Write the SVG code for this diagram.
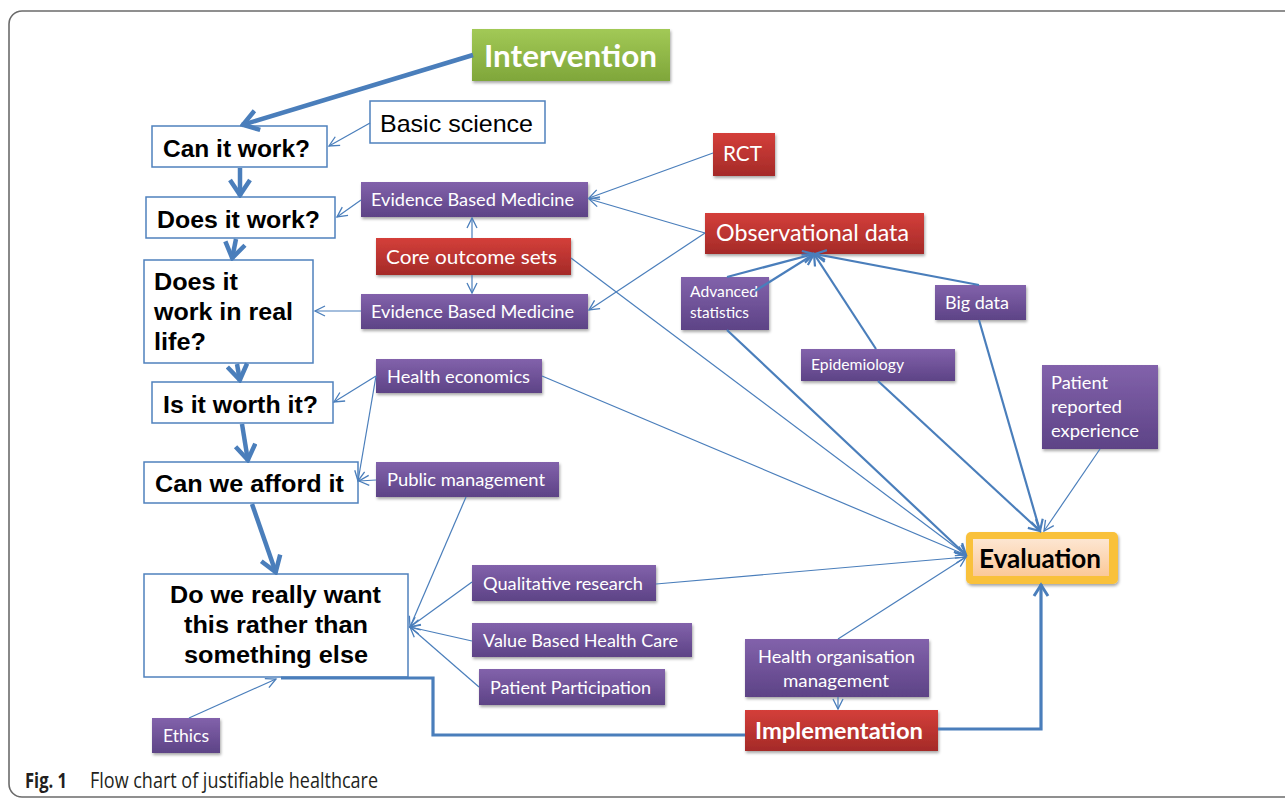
<svg xmlns="http://www.w3.org/2000/svg" width="1285" height="799" viewBox="0 0 1285 799">
<style>
.wb{fill:#fff;stroke:#4f81bd;stroke-width:1.5}
.q{font-family:"Liberation Sans",Arial,sans-serif;font-weight:bold;font-size:23px;fill:#000}
.lb{font-family:Lato,"Open Sans",sans-serif;fill:#fff}
.c1{fill:none;stroke:#4a7ebb;stroke-width:1.2}
.c2{fill:none;stroke:#4a7ebb;stroke-width:2.2}
.c4{fill:none;stroke:#4a7ebb;stroke-width:4.5}
.c3{fill:none;stroke:#4a7ebb;stroke-width:3.2}
</style>
<defs>
<linearGradient id="gp" x1="0" y1="0" x2="0" y2="1"><stop offset="0" stop-color="#8262ab"/><stop offset="1" stop-color="#5d4386"/></linearGradient>
<linearGradient id="gr" x1="0" y1="0" x2="0" y2="1"><stop offset="0" stop-color="#d43f3a"/><stop offset="1" stop-color="#a42a28"/></linearGradient>
<linearGradient id="gg" x1="0" y1="0" x2="0" y2="1"><stop offset="0" stop-color="#a2c956"/><stop offset="1" stop-color="#7fa63a"/></linearGradient>
<linearGradient id="ge" x1="0" y1="0" x2="0" y2="1"><stop offset="0" stop-color="#fde6d2"/><stop offset="1" stop-color="#fbc999"/></linearGradient>
<filter id="sh" x="-10%" y="-20%" width="125%" height="150%"><feDropShadow dx="1" dy="2" stdDeviation="1.5" flood-color="#000" flood-opacity="0.35"/></filter>
<marker id="a1" viewBox="-12 -7 14 14" refX="0" refY="0" markerUnits="userSpaceOnUse" markerWidth="14" markerHeight="14" orient="auto"><path d="M-10,-5 L0,0 L-10,5" fill="none" stroke="#4a7ebb" stroke-width="1.3"/></marker>
<marker id="a2" viewBox="-14 -8 16 16" refX="0" refY="0" markerUnits="userSpaceOnUse" markerWidth="16" markerHeight="16" orient="auto"><path d="M-11,-6 L0,0 L-11,6" fill="none" stroke="#4a7ebb" stroke-width="2.2"/></marker>
<marker id="a4" viewBox="-20 -12 22 24" refX="0" refY="0" markerUnits="userSpaceOnUse" markerWidth="22" markerHeight="24" orient="auto"><path d="M-16,-10 L-1,0 L-16,10" fill="none" stroke="#4a7ebb" stroke-width="4.5"/></marker>
<marker id="a3" viewBox="-16 -10 18 20" refX="0" refY="0" markerUnits="userSpaceOnUse" markerWidth="18" markerHeight="20" orient="auto"><path d="M-12,-7 L-1,0 L-12,7" fill="none" stroke="#4a7ebb" stroke-width="3"/></marker>
</defs>
<rect x="0" y="0" width="1285" height="799" fill="#fff"/>
<rect x="9" y="11" width="1300" height="786" rx="13" fill="none" stroke="#6b6b6b" stroke-width="1.6"/>

<g id="intervention"><rect x="472" y="29" width="198" height="52" fill="url(#gg)" filter="url(#sh)"/><text class="lb" x="484" y="67" font-size="31" font-weight="bold" textLength="173" lengthAdjust="spacingAndGlyphs">Intervention</text></g>
<g id="basic-science"><rect class="wb" x="370" y="101" width="175" height="42"/><text x="380" y="132" font-family="Liberation Sans,Arial,sans-serif" font-size="24" textLength="153" lengthAdjust="spacingAndGlyphs">Basic science</text></g>
<g id="can-it-work"><rect class="wb" x="152" y="126" width="175" height="41"/><text class="q" x="163" y="157" textLength="147" lengthAdjust="spacingAndGlyphs">Can it work?</text></g>
<g id="does-it-work"><rect class="wb" x="146" y="197" width="189" height="41"/><text class="q" x="157" y="228" textLength="163" lengthAdjust="spacingAndGlyphs">Does it work?</text></g>
<g id="real-life"><rect class="wb" x="144" y="260" width="169" height="103"/><text class="q" x="154" y="290" textLength="84" lengthAdjust="spacingAndGlyphs">Does it</text><text class="q" x="154" y="320" textLength="139" lengthAdjust="spacingAndGlyphs">work in real</text><text class="q" x="154" y="350" textLength="52" lengthAdjust="spacingAndGlyphs">life?</text></g>
<g id="worth-it"><rect class="wb" x="152" y="382" width="181" height="41"/><text class="q" x="163" y="413" textLength="155" lengthAdjust="spacingAndGlyphs">Is it worth it?</text></g>
<g id="afford-it"><rect class="wb" x="144" y="462" width="214" height="41"/><text class="q" x="155" y="492" textLength="189" lengthAdjust="spacingAndGlyphs">Can we afford it</text></g>
<g id="really-want"><rect class="wb" x="144" y="574" width="264" height="103"/><text class="q" x="170" y="603" textLength="211" lengthAdjust="spacingAndGlyphs">Do we really want</text><text class="q" x="184" y="633" textLength="184" lengthAdjust="spacingAndGlyphs">this rather than</text><text class="q" x="184" y="663" textLength="184" lengthAdjust="spacingAndGlyphs">something else</text></g>

<g id="ebm1"><rect x="361" y="182" width="227" height="35" fill="url(#gp)" filter="url(#sh)"/><text class="lb" x="371" y="206" font-size="18" textLength="203" lengthAdjust="spacingAndGlyphs">Evidence Based Medicine</text></g>
<g id="core-outcome"><rect x="376" y="238" width="195" height="37" fill="url(#gr)" filter="url(#sh)"/><text class="lb" x="386" y="264" font-size="20" textLength="171" lengthAdjust="spacingAndGlyphs">Core outcome sets</text></g>
<g id="ebm2"><rect x="361" y="294" width="227" height="35" fill="url(#gp)" filter="url(#sh)"/><text class="lb" x="371" y="318" font-size="18" textLength="203" lengthAdjust="spacingAndGlyphs">Evidence Based Medicine</text></g>
<g id="health-economics"><rect x="376" y="359" width="166" height="34" fill="url(#gp)" filter="url(#sh)"/><text class="lb" x="387" y="383" font-size="18" textLength="143" lengthAdjust="spacingAndGlyphs">Health economics</text></g>
<g id="public-management"><rect x="376" y="462" width="183" height="35" fill="url(#gp)" filter="url(#sh)"/><text class="lb" x="387" y="486" font-size="18" textLength="158" lengthAdjust="spacingAndGlyphs">Public management</text></g>
<g id="qualitative-research"><rect x="472" y="565" width="184" height="36" fill="url(#gp)" filter="url(#sh)"/><text class="lb" x="483" y="590" font-size="18" textLength="160" lengthAdjust="spacingAndGlyphs">Qualitative research</text></g>
<g id="value-based"><rect x="472" y="623" width="220" height="34" fill="url(#gp)" filter="url(#sh)"/><text class="lb" x="483" y="647" font-size="18" textLength="195" lengthAdjust="spacingAndGlyphs">Value Based Health Care</text></g>
<g id="patient-participation"><rect x="479" y="669" width="186" height="36" fill="url(#gp)" filter="url(#sh)"/><text class="lb" x="490" y="694" font-size="18" textLength="161" lengthAdjust="spacingAndGlyphs">Patient Participation</text></g>
<g id="ethics"><rect x="152" y="718" width="68" height="35" fill="url(#gp)" filter="url(#sh)"/><text class="lb" x="163" y="742" font-size="18" textLength="46" lengthAdjust="spacingAndGlyphs">Ethics</text></g>

<g id="rct"><rect x="713" y="133" width="62" height="43" fill="url(#gr)" filter="url(#sh)"/><text class="lb" x="723" y="161" font-size="21" textLength="39" lengthAdjust="spacingAndGlyphs">RCT</text></g>
<g id="observational-data"><rect x="705" y="213" width="219" height="41" fill="url(#gr)" filter="url(#sh)"/><text class="lb" x="716" y="241" font-size="23" textLength="193" lengthAdjust="spacingAndGlyphs">Observational data</text></g>
<g id="advanced-statistics"><rect x="681" y="277" width="88" height="53" fill="url(#gp)" filter="url(#sh)"/><text class="lb" x="690" y="297" font-size="15" textLength="68" lengthAdjust="spacingAndGlyphs">Advanced</text><text class="lb" x="690" y="318" font-size="15" textLength="59" lengthAdjust="spacingAndGlyphs">statistics</text></g>
<g id="big-data"><rect x="935" y="285" width="91" height="35" fill="url(#gp)" filter="url(#sh)"/><text class="lb" x="945" y="309" font-size="18" textLength="64" lengthAdjust="spacingAndGlyphs">Big data</text></g>
<g id="epidemiology"><rect x="801" y="349" width="154" height="32" fill="url(#gp)" filter="url(#sh)"/><text class="lb" x="811" y="370" font-size="15" textLength="93" lengthAdjust="spacingAndGlyphs">Epidemiology</text></g>
<g id="patient-reported"><rect x="1042" y="365" width="116" height="84" fill="url(#gp)" filter="url(#sh)"/><text class="lb" x="1051" y="389" font-size="18" textLength="57" lengthAdjust="spacingAndGlyphs">Patient</text><text class="lb" x="1051" y="413" font-size="18" textLength="71" lengthAdjust="spacingAndGlyphs">reported</text><text class="lb" x="1051" y="437" font-size="18" textLength="88" lengthAdjust="spacingAndGlyphs">experience</text></g>
<g id="evaluation"><rect x="966" y="532" width="152" height="52" rx="5" fill="#f9c13a" filter="url(#sh)"/><rect x="973" y="539" width="136" height="37" fill="url(#ge)"/><text x="979" y="568" font-family="Lato,'Open Sans',sans-serif" font-weight="bold" font-size="27" fill="#000" textLength="122" lengthAdjust="spacingAndGlyphs">Evaluation</text></g>
<g id="health-org"><rect x="745" y="639" width="184" height="58" fill="url(#gp)" filter="url(#sh)"/><text class="lb" x="758" y="663" font-size="17" textLength="157" lengthAdjust="spacingAndGlyphs">Health organisation</text><text class="lb" x="783" y="687" font-size="17" textLength="106" lengthAdjust="spacingAndGlyphs">management</text></g>
<g id="implementation"><rect x="745" y="710" width="193" height="41" fill="url(#gr)" filter="url(#sh)"/><text class="lb" x="755" y="739" font-size="23" font-weight="bold" textLength="168" lengthAdjust="spacingAndGlyphs">Implementation</text></g>

<g id="connectors">
<line class="c4" x1="473" y1="55" x2="242" y2="125" marker-end="url(#a4)"/>
<line class="c4" x1="240" y1="168" x2="240" y2="196" marker-end="url(#a4)"/>
<line class="c4" x1="236" y1="239" x2="232" y2="259" marker-end="url(#a4)"/>
<line class="c4" x1="237" y1="364" x2="240" y2="381" marker-end="url(#a4)"/>
<line class="c4" x1="242" y1="424" x2="248" y2="461" marker-end="url(#a4)"/>
<line class="c4" x1="252" y1="504" x2="276" y2="573" marker-end="url(#a4)"/>
<polyline class="c3" points="281,678 433,678 433,735 745,735"/>
<polyline class="c3" points="938,729 1041,729 1041,584" marker-end="url(#a3)"/>

<line class="c1" x1="370" y1="123" x2="329" y2="146" marker-end="url(#a1)"/>
<line class="c1" x1="361" y1="200" x2="337" y2="217" marker-end="url(#a1)"/>
<line class="c1" x1="472" y1="238" x2="472" y2="218" marker-end="url(#a1)"/>
<line class="c1" x1="472" y1="275" x2="472" y2="293" marker-end="url(#a1)"/>
<line class="c1" x1="361" y1="311" x2="315" y2="311" marker-end="url(#a1)"/>
<line class="c1" x1="713" y1="153" x2="589" y2="198" marker-end="url(#a1)"/>
<line class="c1" x1="705" y1="233" x2="589" y2="199" marker-end="url(#a1)"/>
<line class="c1" x1="705" y1="233" x2="589" y2="310" marker-end="url(#a1)"/>
<line class="c1" x1="571" y1="258" x2="966" y2="555" marker-end="url(#a1)"/>
<line class="c1" x1="542" y1="376" x2="966" y2="555" marker-end="url(#a1)"/>
<line class="c1" x1="376" y1="376" x2="334" y2="402" marker-end="url(#a1)"/>
<line class="c1" x1="376" y1="376" x2="358" y2="481" marker-end="url(#a1)"/>
<line class="c1" x1="376" y1="480" x2="359" y2="481" marker-end="url(#a1)"/>
<line class="c1" x1="466" y1="497" x2="410" y2="627" marker-end="url(#a1)"/>
<line class="c1" x1="472" y1="582" x2="410" y2="627" marker-end="url(#a1)"/>
<line class="c1" x1="656" y1="584" x2="966" y2="557" marker-end="url(#a1)"/>
<line class="c1" x1="472" y1="641" x2="410" y2="627" marker-end="url(#a1)"/>
<line class="c1" x1="479" y1="687" x2="410" y2="627" marker-end="url(#a1)"/>
<line class="c1" x1="189" y1="718" x2="276" y2="679" marker-end="url(#a1)"/>
<line class="c1" x1="838" y1="639" x2="966" y2="557" marker-end="url(#a1)"/>
<line class="c1" x1="838" y1="697" x2="838" y2="709" marker-end="url(#a1)"/>
<line class="c1" x1="1100" y1="449" x2="1044" y2="531" marker-end="url(#a1)"/>

<line class="c2" x1="727" y1="277" x2="814" y2="254" marker-end="url(#a2)"/>
<line class="c2" x1="755" y1="291" x2="814" y2="254" marker-end="url(#a2)"/>
<line class="c2" x1="876" y1="349" x2="814" y2="254" marker-end="url(#a2)"/>
<line class="c2" x1="979" y1="285" x2="815" y2="254" marker-end="url(#a2)"/>
<line class="c2" x1="727" y1="330" x2="966" y2="555" marker-end="url(#a2)"/>
<line class="c2" x1="878" y1="381" x2="1040" y2="531" marker-end="url(#a2)"/>
<line class="c2" x1="979" y1="320" x2="1040" y2="531" marker-end="url(#a2)"/>
</g>

<text x="25" y="788" font-family="'Open Sans','Noto Sans',sans-serif" font-size="21" font-weight="bold" fill="#231f20" textLength="42" lengthAdjust="spacingAndGlyphs">Fig. 1</text>
<text x="90" y="788" font-family="'Open Sans','Noto Sans',sans-serif" font-size="21" fill="#231f20" textLength="288" lengthAdjust="spacingAndGlyphs">Flow chart of justifiable healthcare</text>
</svg>
